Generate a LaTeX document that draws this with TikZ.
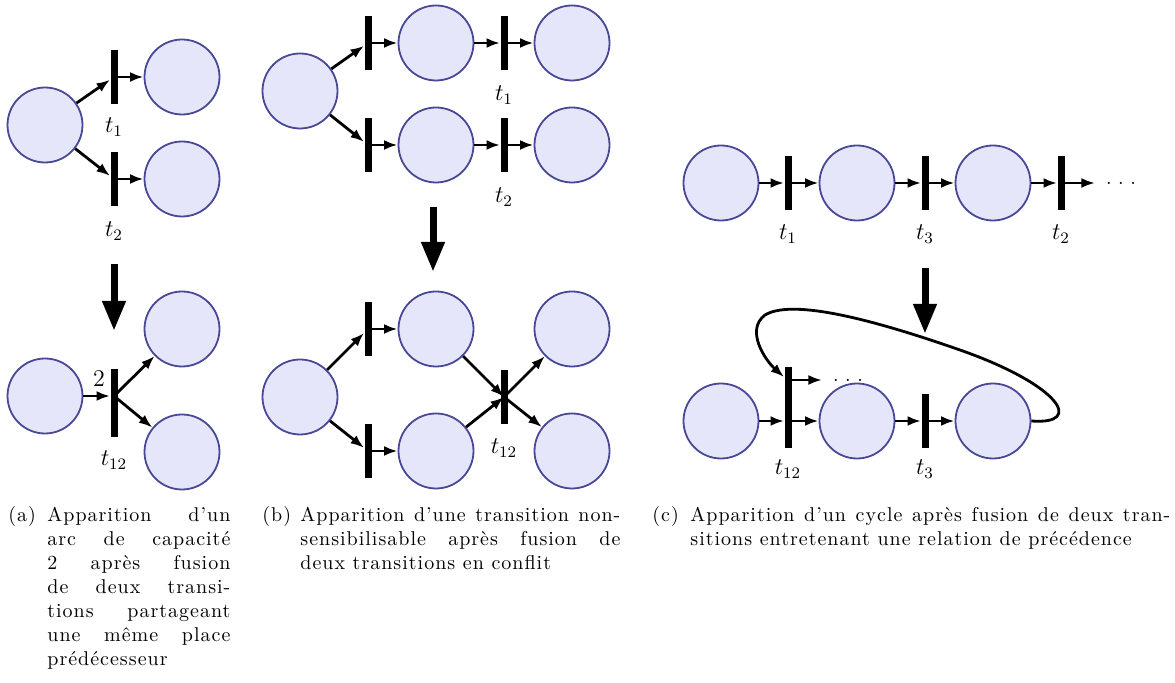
\documentclass[tikz,border=0pt]{standalone}
\usepackage{fontspec}
\newfontfamily\capfont{Latin Modern Roman}[Ligatures=TeX,LetterSpace=5]
\usetikzlibrary{arrows.meta}
\definecolor{placefill}{RGB}{230,230,250}
\definecolor{placedraw}{RGB}{72,72,150}
\tikzset{
  place/.style={circle, draw=placedraw, fill=placefill, line width=0.9pt, minimum size=37.5pt, inner sep=0pt},
  trans/.style={rectangle, fill=black, inner sep=0pt, minimum width=3.5pt, minimum height=27pt},
  arc/.style={line width=1.4pt, -{Latex[length=6.8pt,width=5pt]}},
  bigarrow/.style={line width=3.5pt, -{Triangle[length=15pt,width=11pt]}},
  lbl/.style={font=\large, inner sep=0pt},
  dotsnode/.style={inner sep=0pt},
  captionnode/.style={anchor=base west, inner sep=0pt, align=left, font=\capfont}
}
\begin{document}
\begin{tikzpicture}[x=0.5pt, y=-0.5pt]
\useasboundingbox (0,0) rectangle (1175,683);

% ---------------- (a) ----------------
\node[place] (a0) at (45,125) {};
\node[place] (a1) at (182,77) {};
\node[place] (a2) at (182,179) {};
\node[trans] (at1) at (114,77) {};
\node[trans] (at2) at (114,179) {};
\draw[arc] (a0) -- (at1);
\draw[arc] (at1) -- (a1);
\draw[arc] (a0) -- (at2);
\draw[arc] (at2) -- (a2);
\node[lbl] (lat1) at (114,127) {$t_1$};
\node[lbl] (lat2) at (114,231) {$t_2$};

\coordinate (aarrs) at (114,264);
\coordinate (aarre) at (114,331);
\draw[bigarrow] (aarrs) -- (aarre);

\node[place] (a3) at (45,396) {};
\node[place] (a4) at (182,329) {};
\node[place] (a5) at (182,452) {};
\node[trans, minimum height=34pt] (at12) at (114,403) {};
\draw[arc] (a3.east) -- (a3.east -| at12.west);
\draw[arc] (a3.east -| at12.center) -- (a4);
\draw[arc] (a3.east -| at12.center) -- (a5);
\node[lbl] (lw2) at (99,379) {$2$};
\node[lbl] (lat12) at (114,460) {$t_{12}$};

% ---------------- (b) ----------------
\node[place] (b0) at (300,91) {};
\node[trans] (bt1a) at (368,43) {};
\node[place] (b1) at (436,43) {};
\node[trans] (bt1) at (504,43) {};
\node[place] (b2) at (572,43) {};
\node[trans] (bt2a) at (368,145) {};
\node[place] (b3) at (436,145) {};
\node[trans] (bt2) at (504,145) {};
\node[place] (b4) at (572,145) {};
\draw[arc] (b0) -- (bt1a);
\draw[arc] (bt1a) -- (b1);
\draw[arc] (b1) -- (bt1);
\draw[arc] (bt1) -- (b2);
\draw[arc] (b0) -- (bt2a);
\draw[arc] (bt2a) -- (b3);
\draw[arc] (b3) -- (bt2);
\draw[arc] (bt2) -- (b4);
\node[lbl] (lbt1) at (504,95) {$t_1$};
\node[lbl] (lbt2) at (504,197) {$t_2$};

\coordinate (barrs) at (433,207);
\coordinate (barre) at (433,272);
\draw[bigarrow] (barrs) -- (barre);

\node[place] (b5) at (300,397) {};
\node[trans] (bt3) at (368,329) {};
\node[place] (b6) at (436,329) {};
\node[trans] (bt4) at (368,451) {};
\node[place] (b7) at (436,451) {};
\node[trans] (bt12) at (504,397) {};
\node[place] (b8) at (572,329) {};
\node[place] (b9) at (572,451) {};
\draw[arc] (b5) -- (bt3);
\draw[arc] (bt3) -- (b6);
\draw[arc] (b5) -- (bt4);
\draw[arc] (bt4) -- (b7);
\draw[arc] (b6) -- (bt12.center);
\draw[arc] (b7) -- (bt12.center);
\draw[arc] (bt12.center) -- (b8);
\draw[arc] (bt12.center) -- (b9);
\node[lbl] (lbt12) at (504,448) {$t_{12}$};

% ---------------- (c) ----------------
\node[place] (c0) at (721,183) {};
\node[trans] (ct1) at (788,183) {};
\node[place] (c1) at (857,183) {};
\node[trans] (ct3) at (925,183) {};
\node[place] (c2) at (993,183) {};
\node[trans] (ct2) at (1061,183) {};
\coordinate (cend) at (1095,183);
\node[dotsnode] (cdots) at (1121,183) {.\ .\ .};
\draw[arc] (c0) -- (ct1);
\draw[arc] (ct1) -- (c1);
\draw[arc] (c1) -- (ct3);
\draw[arc] (ct3) -- (c2);
\draw[arc] (c2) -- (ct2);
\draw[arc] (ct2) -- (cend);
\node[lbl] (lct1) at (788,234) {$t_1$};
\node[lbl] (lct3) at (925,234) {$t_3$};
\node[lbl] (lct2) at (1061,234) {$t_2$};

\coordinate (carrs) at (925,268);
\coordinate (carre) at (925,334);
\draw[bigarrow] (carrs) -- (carre);

\node[place] (c3) at (721,421) {};
\node[trans, minimum height=40.5pt] (ct12) at (788,408) {};
\node[place] (c4) at (857,421) {};
\node[trans] (ct3b) at (925,421) {};
\node[place] (c5) at (993,421) {};
\coordinate (cdotsend) at (822,380);
\node[dotsnode] (cdots2) at (848,380) {.\ .\ .};
\draw[arc] (c3.east) -- (c3.east -| ct12.west);
\draw[arc] (c4.west -| ct12.east) -- (c4.west);
\draw[arc] (ct12.east |- cdotsend) -- (cdotsend);
\draw[arc] (c4) -- (ct3b);
\draw[arc] (ct3b) -- (c5);
\draw[arc] (c5.east) .. controls (1085,425) and (1060,385) .. (960,350)
  .. controls (860,315) and (790,300) .. (765,315)
  .. controls (745,330) and (765,360) .. ([yshift=-5pt]ct12.north west);
\node[lbl] (lct12) at (788,469) {$t_{12}$};
\node[lbl] (lct3b) at (925,469) {$t_3$};

% ---------------- captions ----------------
\node[captionnode] (capa) at (8,522) {\makebox[19.5pt][l]{(a)}\parbox[t]{91.5pt}{%
\makebox[\linewidth][s]{Apparition d'un}\\
\makebox[\linewidth][s]{arc de capacité}\\
\makebox[\linewidth][s]{2 après fusion}\\
\makebox[\linewidth][s]{de deux transi-}\\
\makebox[\linewidth][s]{tions partageant}\\
\makebox[\linewidth][s]{une même place}\\
prédécesseur}};
\node[captionnode] (capb) at (262,522) {\makebox[19pt][l]{(b)}\parbox[t]{160pt}{%
\makebox[\linewidth][s]{Apparition d'une transition non-}\\
\makebox[\linewidth][s]{sensibilisable après fusion de}\\
deux transitions en conflit}};
\node[captionnode] (capc) at (652,522) {\makebox[19pt][l]{(c)}\parbox[t]{240pt}{%
\makebox[\linewidth][s]{Apparition d'un cycle après fusion de deux tran-}\\
sitions entretenant une relation de précédence}};
\end{tikzpicture}
\end{document}
